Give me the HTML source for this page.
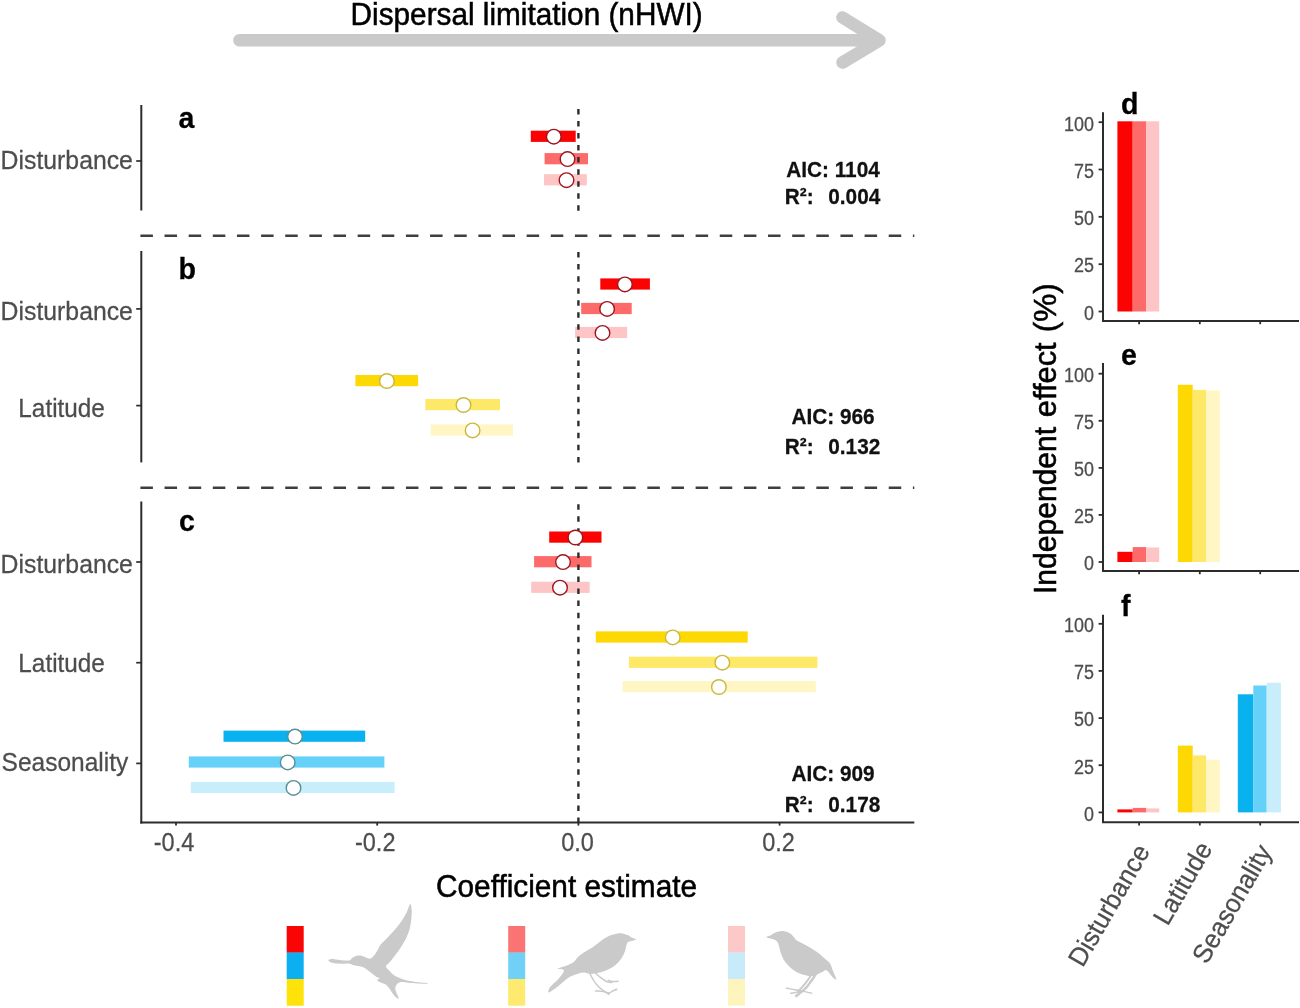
<!DOCTYPE html>
<html lang="en"><head><meta charset="utf-8"><title>Figure</title>
<style>html,body{margin:0;padding:0;background:#fff;}body{width:1300px;height:1008px;overflow:hidden;}svg{display:block;will-change:transform;font-family:"Liberation Sans", sans-serif;}text{font-family:"Liberation Sans", sans-serif;}</style></head><body>
<svg width="1300" height="1008" viewBox="0 0 1300 1008">
<rect x="0" y="0" width="1300" height="1008" fill="#ffffff"/>
<g fill="none" stroke="#cacaca" stroke-width="12.6" stroke-linecap="round" stroke-linejoin="round">
<path d="M239.5 40.3 H878"/>
<path d="M842.5 17.5 L879.5 40.3 L842.5 62.5"/>
</g>
<text transform="translate(350.60 25.30) scale(1.0 1.04)" font-size="29.75" font-weight="normal" fill="#000" stroke="#000" stroke-width="0.5" text-anchor="start">Dispersal limitation (nHWI)</text>
<rect x="530.8" y="130.7" width="44.9" height="11.2" fill="#fb0303"/>
<rect x="544.6" y="153.1" width="43.4" height="11.2" fill="#fc6a6a"/>
<rect x="544.0" y="174.2" width="42.8" height="11.2" fill="#fdc5c5"/>
<rect x="600.3" y="278.4" width="49.6" height="11.2" fill="#fb0303"/>
<rect x="581.2" y="302.9" width="50.5" height="11.2" fill="#fc6a6a"/>
<rect x="575.1" y="326.9" width="52.1" height="11.2" fill="#fdc5c5"/>
<rect x="355.4" y="375.0" width="62.7" height="11.2" fill="#fed802"/>
<rect x="425.4" y="399.0" width="74.6" height="11.2" fill="#fee868"/>
<rect x="430.7" y="424.4" width="82.3" height="11.2" fill="#fff6c4"/>
<rect x="549.2" y="531.5" width="52.3" height="11.2" fill="#fb0303"/>
<rect x="534.1" y="556.1" width="57.4" height="11.2" fill="#fc6a6a"/>
<rect x="531.2" y="581.7" width="58.5" height="11.2" fill="#fdc5c5"/>
<rect x="595.8" y="631.4" width="151.9" height="11.2" fill="#fed802"/>
<rect x="628.9" y="656.7" width="188.5" height="11.2" fill="#fee868"/>
<rect x="622.6" y="681.0" width="193.2" height="11.2" fill="#fff6c4"/>
<rect x="223.5" y="730.6" width="141.7" height="11.2" fill="#0ab1ef"/>
<rect x="188.8" y="756.4" width="195.6" height="11.2" fill="#66d1f8"/>
<rect x="190.8" y="781.9" width="203.8" height="11.2" fill="#c8eefb"/>
<path d="M578.4 210.8 V105.0" stroke="#2c2c2c" stroke-width="2.4" stroke-dasharray="5.5 6.55" fill="none"/>
<path d="M578.4 462.4 V251.0" stroke="#2c2c2c" stroke-width="2.4" stroke-dasharray="5.5 6.55" fill="none"/>
<path d="M578.4 823.0 V501.6" stroke="#2c2c2c" stroke-width="2.4" stroke-dasharray="5.5 6.55" fill="none"/>
<circle cx="553.8" cy="136.7" r="7.3" fill="#fff" stroke="#a0141e" stroke-width="1.4"/>
<circle cx="567.5" cy="159.1" r="7.3" fill="#fff" stroke="#a0141e" stroke-width="1.4"/>
<circle cx="566.5" cy="180.2" r="7.3" fill="#fff" stroke="#a0141e" stroke-width="1.4"/>
<circle cx="624.9" cy="284.4" r="7.3" fill="#fff" stroke="#a0141e" stroke-width="1.4"/>
<circle cx="607.1" cy="308.9" r="7.3" fill="#fff" stroke="#a0141e" stroke-width="1.4"/>
<circle cx="602.5" cy="332.9" r="7.3" fill="#fff" stroke="#a0141e" stroke-width="1.4"/>
<circle cx="386.9" cy="381.0" r="7.3" fill="#fff" stroke="#c9b93c" stroke-width="1.4"/>
<circle cx="463.5" cy="405.0" r="7.3" fill="#fff" stroke="#c9b93c" stroke-width="1.4"/>
<circle cx="472.6" cy="430.4" r="7.3" fill="#fff" stroke="#c9b93c" stroke-width="1.4"/>
<circle cx="575.4" cy="537.5" r="7.3" fill="#fff" stroke="#a0141e" stroke-width="1.4"/>
<circle cx="563.0" cy="562.1" r="7.3" fill="#fff" stroke="#a0141e" stroke-width="1.4"/>
<circle cx="560.0" cy="587.7" r="7.3" fill="#fff" stroke="#a0141e" stroke-width="1.4"/>
<circle cx="672.7" cy="637.4" r="7.3" fill="#fff" stroke="#c9b93c" stroke-width="1.4"/>
<circle cx="722.3" cy="662.7" r="7.3" fill="#fff" stroke="#c9b93c" stroke-width="1.4"/>
<circle cx="718.9" cy="687.0" r="7.3" fill="#fff" stroke="#c9b93c" stroke-width="1.4"/>
<circle cx="295.0" cy="736.6" r="7.3" fill="#fff" stroke="#5a8e92" stroke-width="1.4"/>
<circle cx="287.7" cy="762.4" r="7.3" fill="#fff" stroke="#5a8e92" stroke-width="1.4"/>
<circle cx="293.5" cy="787.9" r="7.3" fill="#fff" stroke="#5a8e92" stroke-width="1.4"/>
<path d="M140.4 235.7 H914.3" stroke="#3e3e3e" stroke-width="2.4" stroke-dasharray="12.5 11.64" fill="none"/>
<path d="M140.4 487.7 H914.3" stroke="#3e3e3e" stroke-width="2.4" stroke-dasharray="12.5 11.64" fill="none"/>
<path d="M141.3 105.0 V210.5" stroke="#2c2c2c" stroke-width="2" fill="none"/>
<path d="M136.2 161.0 H141.3" stroke="#2c2c2c" stroke-width="1.7" fill="none"/>
<path d="M141.3 251.0 V462.4" stroke="#2c2c2c" stroke-width="2" fill="none"/>
<path d="M136.2 308.9 H141.3" stroke="#2c2c2c" stroke-width="1.7" fill="none"/>
<path d="M136.2 405.6 H141.3" stroke="#2c2c2c" stroke-width="1.7" fill="none"/>
<path d="M141.3 501.6 V823.5" stroke="#2c2c2c" stroke-width="2" fill="none"/>
<path d="M136.2 562.0 H141.3" stroke="#2c2c2c" stroke-width="1.7" fill="none"/>
<path d="M136.2 662.7 H141.3" stroke="#2c2c2c" stroke-width="1.7" fill="none"/>
<path d="M136.2 763.4 H141.3" stroke="#2c2c2c" stroke-width="1.7" fill="none"/>
<path d="M140.3 822.6 H914.3" stroke="#2c2c2c" stroke-width="2" fill="none"/>
<path d="M176.0 822.6 V825.6" stroke="#2c2c2c" stroke-width="1.8" fill="none"/>
<path d="M377.2 822.6 V825.6" stroke="#2c2c2c" stroke-width="1.8" fill="none"/>
<path d="M578.4 822.6 V825.6" stroke="#2c2c2c" stroke-width="1.8" fill="none"/>
<path d="M779.6 822.6 V825.6" stroke="#2c2c2c" stroke-width="1.8" fill="none"/>
<text transform="translate(174.00 851.20) scale(0.96 1.07)" font-size="24.5" font-weight="normal" fill="#4d4d4d" stroke="#4d4d4d" stroke-width="0.25" text-anchor="middle">-0.4</text>
<text transform="translate(375.20 851.20) scale(0.96 1.07)" font-size="24.5" font-weight="normal" fill="#4d4d4d" stroke="#4d4d4d" stroke-width="0.25" text-anchor="middle">-0.2</text>
<text transform="translate(577.60 851.20) scale(0.96 1.07)" font-size="24.5" font-weight="normal" fill="#4d4d4d" stroke="#4d4d4d" stroke-width="0.25" text-anchor="middle">0.0</text>
<text transform="translate(778.60 851.20) scale(0.96 1.07)" font-size="24.5" font-weight="normal" fill="#4d4d4d" stroke="#4d4d4d" stroke-width="0.25" text-anchor="middle">0.2</text>
<text transform="translate(132.90 169.30) scale(1.0 1.04)" font-size="24.8" font-weight="normal" fill="#4d4d4d" stroke="#4d4d4d" stroke-width="0.25" text-anchor="end">Disturbance</text>
<text transform="translate(132.90 320.30) scale(1.0 1.04)" font-size="24.8" font-weight="normal" fill="#4d4d4d" stroke="#4d4d4d" stroke-width="0.25" text-anchor="end">Disturbance</text>
<text transform="translate(104.80 416.90) scale(1.0 1.04)" font-size="24.3" font-weight="normal" fill="#4d4d4d" stroke="#4d4d4d" stroke-width="0.25" text-anchor="end">Latitude</text>
<text transform="translate(132.90 573.30) scale(1.0 1.04)" font-size="24.8" font-weight="normal" fill="#4d4d4d" stroke="#4d4d4d" stroke-width="0.25" text-anchor="end">Disturbance</text>
<text transform="translate(104.80 672.20) scale(1.0 1.04)" font-size="24.3" font-weight="normal" fill="#4d4d4d" stroke="#4d4d4d" stroke-width="0.25" text-anchor="end">Latitude</text>
<text transform="translate(128.20 771.20) scale(1.0 1.04)" font-size="24.5" font-weight="normal" fill="#4d4d4d" stroke="#4d4d4d" stroke-width="0.25" text-anchor="end">Seasonality</text>
<text transform="translate(178.50 128.30) scale(1.0 1.04)" font-size="28.6" font-weight="bold" fill="#000" stroke="#000" stroke-width="0.25" text-anchor="start">a</text>
<text transform="translate(178.50 279.20) scale(1.0 1.04)" font-size="28.6" font-weight="bold" fill="#000" stroke="#000" stroke-width="0.25" text-anchor="start">b</text>
<text transform="translate(179.00 531.20) scale(1.0 1.04)" font-size="28.6" font-weight="bold" fill="#000" stroke="#000" stroke-width="0.25" text-anchor="start">c</text>
<text transform="translate(833.00 177.00) scale(1.0 1.04)" font-size="20.8" font-weight="bold" fill="#111" stroke="#111" stroke-width="0.25" text-anchor="middle">AIC: 1104</text>
<text transform="translate(784.80 204.00) scale(1.0 1.04)" font-size="20.8" font-weight="bold" fill="#111" stroke="#111" stroke-width="0.25" text-anchor="start">R²:</text>
<text transform="translate(880.30 204.00) scale(1.0 1.04)" font-size="20.8" font-weight="bold" fill="#111" stroke="#111" stroke-width="0.25" text-anchor="end">0.004</text>
<text transform="translate(833.00 423.80) scale(1.0 1.04)" font-size="20.8" font-weight="bold" fill="#111" stroke="#111" stroke-width="0.25" text-anchor="middle">AIC: 966</text>
<text transform="translate(784.80 453.80) scale(1.0 1.04)" font-size="20.8" font-weight="bold" fill="#111" stroke="#111" stroke-width="0.25" text-anchor="start">R²:</text>
<text transform="translate(880.30 453.80) scale(1.0 1.04)" font-size="20.8" font-weight="bold" fill="#111" stroke="#111" stroke-width="0.25" text-anchor="end">0.132</text>
<text transform="translate(833.00 781.40) scale(1.0 1.04)" font-size="20.8" font-weight="bold" fill="#111" stroke="#111" stroke-width="0.25" text-anchor="middle">AIC: 909</text>
<text transform="translate(784.80 812.00) scale(1.0 1.04)" font-size="20.8" font-weight="bold" fill="#111" stroke="#111" stroke-width="0.25" text-anchor="start">R²:</text>
<text transform="translate(880.30 812.00) scale(1.0 1.04)" font-size="20.8" font-weight="bold" fill="#111" stroke="#111" stroke-width="0.25" text-anchor="end">0.178</text>
<text transform="translate(436.00 897.00) scale(1.0 1.04)" font-size="29.8" font-weight="normal" fill="#000" stroke="#000" stroke-width="0.5" text-anchor="start">Coefficient estimate</text>
<rect x="1117.4" y="121.3" width="15.3" height="190.2" fill="#fb0303"/>
<rect x="1132.7" y="121.3" width="13.6" height="190.2" fill="#fc6a6a"/>
<rect x="1146.3" y="121.3" width="12.9" height="190.2" fill="#fdc5c5"/>
<path d="M1103.0 112.3 V321.0 H1299" stroke="#2c2c2c" stroke-width="2" fill="none"/>
<path d="M1098.6 311.5 H1103.0" stroke="#2c2c2c" stroke-width="1.8" fill="none"/>
<text transform="translate(1094.00 319.80) scale(0.965 1.06)" font-size="18.6" font-weight="normal" fill="#4d4d4d" stroke="#4d4d4d" stroke-width="0.25" text-anchor="end">0</text>
<path d="M1098.6 264.2 H1103.0" stroke="#2c2c2c" stroke-width="1.8" fill="none"/>
<text transform="translate(1094.00 272.48) scale(0.965 1.06)" font-size="18.6" font-weight="normal" fill="#4d4d4d" stroke="#4d4d4d" stroke-width="0.25" text-anchor="end">25</text>
<path d="M1098.6 216.8 H1103.0" stroke="#2c2c2c" stroke-width="1.8" fill="none"/>
<text transform="translate(1094.00 225.15) scale(0.965 1.06)" font-size="18.6" font-weight="normal" fill="#4d4d4d" stroke="#4d4d4d" stroke-width="0.25" text-anchor="end">50</text>
<path d="M1098.6 169.5 H1103.0" stroke="#2c2c2c" stroke-width="1.8" fill="none"/>
<text transform="translate(1094.00 177.83) scale(0.965 1.06)" font-size="18.6" font-weight="normal" fill="#4d4d4d" stroke="#4d4d4d" stroke-width="0.25" text-anchor="end">75</text>
<path d="M1098.6 122.2 H1103.0" stroke="#2c2c2c" stroke-width="1.8" fill="none"/>
<text transform="translate(1094.00 130.50) scale(0.965 1.06)" font-size="18.6" font-weight="normal" fill="#4d4d4d" stroke="#4d4d4d" stroke-width="0.25" text-anchor="end">100</text>
<path d="M1139.1 321.0 V324.2" stroke="#2c2c2c" stroke-width="1.8" fill="none"/>
<path d="M1199.8 321.0 V324.2" stroke="#2c2c2c" stroke-width="1.8" fill="none"/>
<path d="M1260.2 321.0 V324.2" stroke="#2c2c2c" stroke-width="1.8" fill="none"/>
<text transform="translate(1121.00 113.80) scale(1.0 1.04)" font-size="28.6" font-weight="bold" fill="#000" stroke="#000" stroke-width="0.25" text-anchor="start">d</text>
<rect x="1117.4" y="551.8" width="15.3" height="10.2" fill="#fb0303"/>
<rect x="1132.7" y="547.1" width="13.6" height="14.9" fill="#fc6a6a"/>
<rect x="1146.3" y="547.5" width="12.9" height="14.5" fill="#fdc5c5"/>
<rect x="1177.8" y="384.8" width="14.9" height="177.2" fill="#fed802"/>
<rect x="1192.7" y="389.9" width="13.4" height="172.1" fill="#fee868"/>
<rect x="1206.1" y="390.6" width="13.7" height="171.4" fill="#fff6c4"/>
<path d="M1103.0 363.0 V571.0 H1299" stroke="#2c2c2c" stroke-width="2" fill="none"/>
<path d="M1098.6 562.0 H1103.0" stroke="#2c2c2c" stroke-width="1.8" fill="none"/>
<text transform="translate(1094.00 570.30) scale(0.965 1.06)" font-size="18.6" font-weight="normal" fill="#4d4d4d" stroke="#4d4d4d" stroke-width="0.25" text-anchor="end">0</text>
<path d="M1098.6 514.9 H1103.0" stroke="#2c2c2c" stroke-width="1.8" fill="none"/>
<text transform="translate(1094.00 523.22) scale(0.965 1.06)" font-size="18.6" font-weight="normal" fill="#4d4d4d" stroke="#4d4d4d" stroke-width="0.25" text-anchor="end">25</text>
<path d="M1098.6 467.9 H1103.0" stroke="#2c2c2c" stroke-width="1.8" fill="none"/>
<text transform="translate(1094.00 476.15) scale(0.965 1.06)" font-size="18.6" font-weight="normal" fill="#4d4d4d" stroke="#4d4d4d" stroke-width="0.25" text-anchor="end">50</text>
<path d="M1098.6 420.8 H1103.0" stroke="#2c2c2c" stroke-width="1.8" fill="none"/>
<text transform="translate(1094.00 429.07) scale(0.965 1.06)" font-size="18.6" font-weight="normal" fill="#4d4d4d" stroke="#4d4d4d" stroke-width="0.25" text-anchor="end">75</text>
<path d="M1098.6 373.7 H1103.0" stroke="#2c2c2c" stroke-width="1.8" fill="none"/>
<text transform="translate(1094.00 382.00) scale(0.965 1.06)" font-size="18.6" font-weight="normal" fill="#4d4d4d" stroke="#4d4d4d" stroke-width="0.25" text-anchor="end">100</text>
<path d="M1139.1 571.0 V574.2" stroke="#2c2c2c" stroke-width="1.8" fill="none"/>
<path d="M1199.8 571.0 V574.2" stroke="#2c2c2c" stroke-width="1.8" fill="none"/>
<path d="M1260.2 571.0 V574.2" stroke="#2c2c2c" stroke-width="1.8" fill="none"/>
<text transform="translate(1121.00 364.90) scale(1.0 1.04)" font-size="28.6" font-weight="bold" fill="#000" stroke="#000" stroke-width="0.25" text-anchor="start">e</text>
<rect x="1117.4" y="809.4" width="15.3" height="3.0" fill="#fb0303"/>
<rect x="1132.7" y="807.9" width="13.6" height="4.5" fill="#fc6a6a"/>
<rect x="1146.3" y="808.4" width="12.9" height="4.0" fill="#fdc5c5"/>
<rect x="1177.8" y="745.6" width="14.9" height="66.8" fill="#fed802"/>
<rect x="1192.7" y="755.4" width="13.4" height="57.0" fill="#fee868"/>
<rect x="1206.1" y="759.8" width="13.7" height="52.6" fill="#fff6c4"/>
<rect x="1237.8" y="694.3" width="15.5" height="118.1" fill="#0ab1ef"/>
<rect x="1253.3" y="685.5" width="13.4" height="126.9" fill="#66d1f8"/>
<rect x="1266.7" y="682.8" width="14.2" height="129.6" fill="#c8eefb"/>
<path d="M1103.0 614.8 V822.3 H1299" stroke="#2c2c2c" stroke-width="2" fill="none"/>
<path d="M1098.6 812.4 H1103.0" stroke="#2c2c2c" stroke-width="1.8" fill="none"/>
<text transform="translate(1094.00 820.70) scale(0.965 1.06)" font-size="18.6" font-weight="normal" fill="#4d4d4d" stroke="#4d4d4d" stroke-width="0.25" text-anchor="end">0</text>
<path d="M1098.6 765.2 H1103.0" stroke="#2c2c2c" stroke-width="1.8" fill="none"/>
<text transform="translate(1094.00 773.55) scale(0.965 1.06)" font-size="18.6" font-weight="normal" fill="#4d4d4d" stroke="#4d4d4d" stroke-width="0.25" text-anchor="end">25</text>
<path d="M1098.6 718.1 H1103.0" stroke="#2c2c2c" stroke-width="1.8" fill="none"/>
<text transform="translate(1094.00 726.40) scale(0.965 1.06)" font-size="18.6" font-weight="normal" fill="#4d4d4d" stroke="#4d4d4d" stroke-width="0.25" text-anchor="end">50</text>
<path d="M1098.6 670.9 H1103.0" stroke="#2c2c2c" stroke-width="1.8" fill="none"/>
<text transform="translate(1094.00 679.25) scale(0.965 1.06)" font-size="18.6" font-weight="normal" fill="#4d4d4d" stroke="#4d4d4d" stroke-width="0.25" text-anchor="end">75</text>
<path d="M1098.6 623.8 H1103.0" stroke="#2c2c2c" stroke-width="1.8" fill="none"/>
<text transform="translate(1094.00 632.10) scale(0.965 1.06)" font-size="18.6" font-weight="normal" fill="#4d4d4d" stroke="#4d4d4d" stroke-width="0.25" text-anchor="end">100</text>
<path d="M1139.1 822.3 V825.5" stroke="#2c2c2c" stroke-width="1.8" fill="none"/>
<path d="M1199.8 822.3 V825.5" stroke="#2c2c2c" stroke-width="1.8" fill="none"/>
<path d="M1260.2 822.3 V825.5" stroke="#2c2c2c" stroke-width="1.8" fill="none"/>
<text transform="translate(1121.00 615.60) scale(1.0 1.04)" font-size="28.6" font-weight="bold" fill="#000" stroke="#000" stroke-width="0.25" text-anchor="start">f</text>
<text transform="translate(1055.70 594.07) rotate(-90) scale(1.003 1.066)" font-size="30" font-weight="normal" fill="#000" stroke="#000" stroke-width="0.5" text-anchor="start">Independent</text>
<text transform="translate(1055.70 417.30) rotate(-90) scale(1.03 1.066)" font-size="30" font-weight="normal" fill="#000" stroke="#000" stroke-width="0.5" text-anchor="start">effect</text>
<text transform="translate(1055.70 332.30) rotate(-90) scale(1.053 1.066)" font-size="30" font-weight="normal" fill="#000" stroke="#000" stroke-width="0.5" text-anchor="start">(%)</text>
<text transform="translate(1150.60 851.00) rotate(-60) scale(1.0 1.04)" font-size="25.4" font-weight="normal" fill="#4d4d4d" stroke="#4d4d4d" stroke-width="0.25" text-anchor="end">Disturbance</text>
<text transform="translate(1213.00 848.60) rotate(-60) scale(1.0 1.04)" font-size="25.4" font-weight="normal" fill="#4d4d4d" stroke="#4d4d4d" stroke-width="0.25" text-anchor="end">Latitude</text>
<text transform="translate(1272.50 851.50) rotate(-60) scale(1.0 1.04)" font-size="25.4" font-weight="normal" fill="#4d4d4d" stroke="#4d4d4d" stroke-width="0.25" text-anchor="end">Seasonality</text>
<rect x="286.7" y="926.0" width="17" height="26.8" fill="#fa0505"/>
<rect x="286.7" y="952.5" width="17" height="26.8" fill="#0cb0f0"/>
<rect x="286.7" y="979.0" width="17" height="26.7" fill="#fde30a"/>
<rect x="508.2" y="926.0" width="17" height="26.8" fill="#fa7474"/>
<rect x="508.2" y="952.5" width="17" height="26.8" fill="#70d0f6"/>
<rect x="508.2" y="979.0" width="17" height="26.7" fill="#fdea6e"/>
<rect x="728.0" y="926.0" width="17" height="26.8" fill="#fdc8c8"/>
<rect x="728.0" y="952.5" width="17" height="26.8" fill="#c8ebfa"/>
<rect x="728.0" y="979.0" width="17" height="26.7" fill="#fef4be"/>
<path d="M328.15 960.31 C328.10 959.67 329.95 959.03 331.54 958.92 C333.13 958.82 335.38 959.41 337.69 959.69 C340.00 959.97 343.33 960.51 345.38 960.62 C347.44 960.72 348.85 960.77 350.00 960.31 C351.15 959.85 351.15 958.62 352.31 957.85 C353.46 957.08 355.26 956.00 356.92 955.69 C358.59 955.38 360.38 955.54 362.31 956.00 C364.23 956.46 366.72 958.31 368.46 958.46 C370.21 958.62 371.36 958.13 372.77 956.92 C374.18 955.72 375.54 953.38 376.92 951.23 C378.31 949.08 379.28 946.31 381.08 944.00 C382.87 941.69 385.31 939.90 387.69 937.38 C390.08 934.87 393.00 931.74 395.38 928.92 C397.77 926.10 400.08 923.33 402.00 920.46 C403.92 917.59 405.54 914.44 406.92 911.69 C408.31 908.95 409.51 904.15 410.31 904.00 C411.10 903.85 411.54 908.10 411.69 910.77 C411.85 913.44 411.59 916.92 411.23 920.00 C410.87 923.08 410.36 926.28 409.54 929.23 C408.72 932.18 407.72 934.74 406.31 937.69 C404.90 940.64 402.97 943.97 401.08 946.92 C399.18 949.87 396.85 952.82 394.92 955.38 C393.00 957.95 391.03 960.46 389.54 962.31 C388.05 964.15 385.92 964.95 386.00 966.46 C386.08 967.97 388.64 969.92 390.00 971.38 C391.36 972.85 392.36 974.05 394.15 975.23 C395.95 976.41 398.59 977.59 400.77 978.46 C402.95 979.33 404.33 979.82 407.23 980.46 C410.13 981.10 414.90 981.87 418.15 982.31 C421.41 982.74 425.33 982.82 426.77 983.08 C428.21 983.33 428.28 983.77 426.77 983.85 C425.26 983.92 420.74 983.72 417.69 983.54 C414.64 983.36 411.23 983.03 408.46 982.77 C405.69 982.51 402.97 981.79 401.08 982.00 C399.18 982.21 398.05 982.95 397.08 984.00 C396.10 985.05 395.28 986.72 395.23 988.31 C395.18 989.90 396.15 991.79 396.77 993.54 C397.38 995.28 399.23 998.31 398.92 998.77 C398.62 999.23 396.23 997.62 394.92 996.31 C393.62 995.00 392.41 992.74 391.08 990.92 C389.74 989.10 388.31 986.67 386.92 985.38 C385.54 984.10 384.05 983.79 382.77 983.23 C381.49 982.67 380.15 982.56 379.23 982.00 C378.31 981.44 377.15 980.46 377.23 979.85 C377.31 979.23 379.92 978.87 379.69 978.31 C379.46 977.74 377.38 977.46 375.85 976.46 C374.31 975.46 372.26 973.69 370.46 972.31 C368.67 970.92 366.87 969.15 365.08 968.15 C363.28 967.15 361.56 966.79 359.69 966.31 C357.82 965.82 355.51 965.67 353.85 965.23 C352.18 964.79 351.36 963.92 349.69 963.69 C348.03 963.46 345.85 963.87 343.85 963.85 C341.85 963.82 339.69 963.72 337.69 963.54 C335.69 963.36 333.44 963.31 331.85 962.77 C330.26 962.23 328.21 960.95 328.15 960.31Z" fill="#cacaca"/>
<path d="M636.15 939.23 C636.03 938.67 632.95 938.08 631.54 937.38 C630.13 936.69 629.23 935.74 627.69 935.08 C626.15 934.41 624.23 933.62 622.31 933.38 C620.38 933.15 618.21 933.36 616.15 933.69 C614.10 934.03 612.05 934.54 610.00 935.38 C607.95 936.23 605.90 937.44 603.85 938.77 C601.79 940.10 599.74 941.85 597.69 943.38 C595.64 944.92 593.72 946.56 591.54 948.00 C589.36 949.44 586.79 950.56 584.62 952.00 C582.44 953.44 580.18 955.03 578.46 956.62 C576.74 958.21 575.85 960.21 574.31 961.54 C572.77 962.87 571.10 963.74 569.23 964.62 C567.36 965.49 564.97 966.10 563.08 966.77 C561.18 967.44 557.72 968.00 557.85 968.62 C557.97 969.23 563.54 969.00 563.85 970.46 C564.15 971.92 561.44 975.15 559.69 977.38 C557.95 979.62 555.10 982.08 553.38 983.85 C551.67 985.62 550.21 986.59 549.38 988.00 C548.56 989.41 548.10 991.82 548.46 992.31 C548.82 992.79 549.97 991.90 551.54 990.92 C553.10 989.95 555.74 988.10 557.85 986.46 C559.95 984.82 562.08 982.72 564.15 981.08 C566.23 979.44 568.38 977.72 570.31 976.62 C572.23 975.51 573.59 975.15 575.69 974.46 C577.79 973.77 580.79 972.64 582.92 972.46 C585.05 972.28 586.82 973.15 588.46 973.38 C590.10 973.62 591.23 973.92 592.77 973.85 C594.31 973.77 595.72 973.41 597.69 972.92 C599.67 972.44 602.31 971.77 604.62 970.92 C606.92 970.08 609.41 969.13 611.54 967.85 C613.67 966.56 615.64 964.97 617.38 963.23 C619.13 961.49 620.72 959.44 622.00 957.38 C623.28 955.33 624.31 953.05 625.08 950.92 C625.85 948.79 626.05 946.13 626.62 944.62 C627.18 943.10 627.51 942.49 628.46 941.85 C629.41 941.21 631.03 941.21 632.31 940.77 C633.59 940.33 636.28 939.79 636.15 939.23Z" fill="#cacaca"/>
<path d="M590.77 973.54 C588.21 971.33 592.23 977.95 593.38 980.00 C594.54 982.05 596.08 984.10 597.69 985.85 C599.31 987.59 601.23 989.23 603.08 990.46 C604.92 991.69 610.82 996.05 608.77 993.23" fill="none" stroke="#cacaca" stroke-width="1.5" stroke-linecap="round" stroke-linejoin="round"/>
<path d="M596.15 990.77 C593.90 991.13 600.21 991.03 602.31 991.38 C604.41 991.74 606.97 993.03 608.77 992.92 C610.56 992.82 611.90 991.38 613.08 990.77 C614.26 990.15 618.67 989.23 615.85 989.23" fill="none" stroke="#cacaca" stroke-width="1.5" stroke-linecap="round" stroke-linejoin="round"/>
<path d="M596.15 973.23 C594.36 972.51 599.10 976.36 600.77 977.69 C602.44 979.03 604.36 980.51 606.15 981.23 C607.95 981.95 613.21 983.33 611.54 982.00" fill="none" stroke="#cacaca" stroke-width="1.5" stroke-linecap="round" stroke-linejoin="round"/>
<path d="M608.46 980.31 C607.64 980.38 611.49 981.41 613.08 981.54 C614.67 981.67 618.77 981.28 618.00 981.08" fill="none" stroke="#cacaca" stroke-width="1.5" stroke-linecap="round" stroke-linejoin="round"/>
<path d="M765.85 936.92 C765.77 936.46 768.72 936.26 770.00 935.69 C771.28 935.13 772.26 934.21 773.54 933.54 C774.82 932.87 776.10 932.10 777.69 931.69 C779.28 931.28 781.28 930.92 783.08 931.08 C784.87 931.23 786.79 931.77 788.46 932.62 C790.13 933.46 791.72 934.87 793.08 936.15 C794.44 937.44 794.95 939.03 796.62 940.31 C798.28 941.59 800.72 942.56 803.08 943.85 C805.44 945.13 808.33 946.54 810.77 948.00 C813.21 949.46 815.44 950.92 817.69 952.62 C819.95 954.31 822.26 956.36 824.31 958.15 C826.36 959.95 828.62 961.41 830.00 963.38 C831.38 965.36 831.77 967.95 832.62 970.00 C833.46 972.05 834.46 974.08 835.08 975.69 C835.69 977.31 836.72 979.44 836.31 979.69 C835.90 979.95 833.79 978.33 832.62 977.23 C831.44 976.13 830.31 974.28 829.23 973.08 C828.15 971.87 827.31 970.18 826.15 970.00 C825.00 969.82 823.72 971.31 822.31 972.00 C820.90 972.69 818.97 973.54 817.69 974.15 C816.41 974.77 815.90 975.36 814.62 975.69 C813.33 976.03 811.67 976.26 810.00 976.15 C808.33 976.05 806.54 975.59 804.62 975.08 C802.69 974.56 800.51 974.05 798.46 973.08 C796.41 972.10 794.15 970.64 792.31 969.23 C790.46 967.82 788.87 966.28 787.38 964.62 C785.90 962.95 784.49 961.15 783.38 959.23 C782.28 957.31 781.46 955.13 780.77 953.08 C780.08 951.03 779.74 948.72 779.23 946.92 C778.72 945.13 778.46 943.51 777.69 942.31 C776.92 941.10 775.82 940.33 774.62 939.69 C773.41 939.05 771.92 938.92 770.46 938.46 C769.00 938.00 765.92 937.38 765.85 936.92Z" fill="#cacaca"/>
<path d="M814.62 975.38 C816.92 973.13 812.18 979.49 810.77 981.54 C809.36 983.59 807.82 985.90 806.15 987.69 C804.49 989.49 802.31 991.08 800.77 992.31 C799.23 993.54 794.62 997.90 796.92 995.08" fill="none" stroke="#cacaca" stroke-width="2.5" stroke-linecap="round" stroke-linejoin="round"/>
<path d="M810.46 975.69 C811.74 974.28 807.77 980.18 806.15 982.31 C804.54 984.44 802.05 987.05 800.77 988.46 C799.49 989.87 796.85 992.90 798.46 990.77" fill="none" stroke="#cacaca" stroke-width="1.9" stroke-linecap="round" stroke-linejoin="round"/>
<path d="M786.92 988.31 C784.15 987.74 791.54 989.13 793.85 989.54 C796.15 989.95 798.46 990.31 800.77 990.77 C803.08 991.23 806.08 991.95 807.69 992.31 C809.31 992.67 813.92 993.59 810.46 992.92" fill="none" stroke="#cacaca" stroke-width="1.4" stroke-linecap="round" stroke-linejoin="round"/>
<path d="M790.77 993.23 C790.00 993.44 795.13 992.67 796.92 992.31 C798.72 991.95 802.56 990.92 801.54 991.08" fill="none" stroke="#cacaca" stroke-width="1.4" stroke-linecap="round" stroke-linejoin="round"/>
</svg></body></html>
